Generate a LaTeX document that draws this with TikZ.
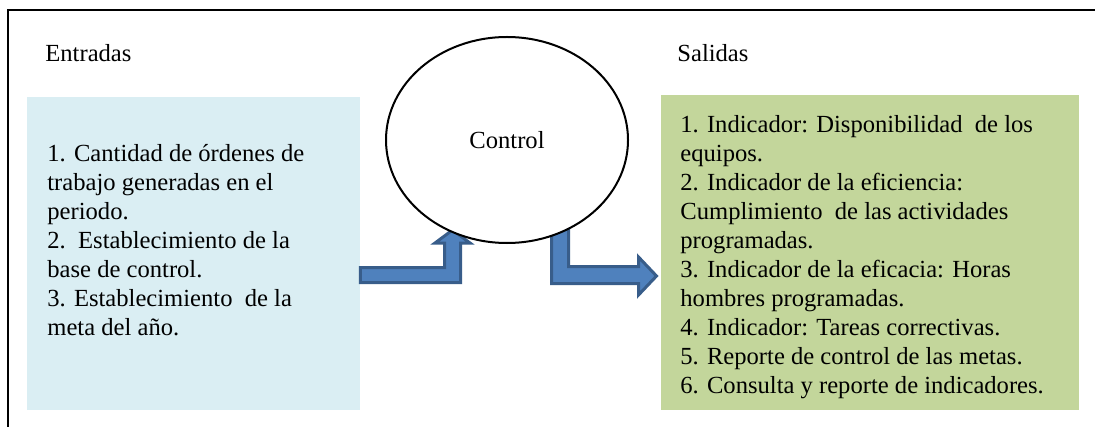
\documentclass[tikz,border=0pt]{standalone}
\usepackage{fontspec}
\setmainfont{Liberation Serif}
\usetikzlibrary{shapes.geometric}
\definecolor{entradafill}{HTML}{DAEEF3}
\definecolor{salidafill}{HTML}{C3D69B}
\definecolor{flechafill}{HTML}{4F81BD}
\definecolor{flechaborde}{HTML}{385D8A}
\tikzset{
  caja/.style={inner sep=0pt, draw=none},
  lista/.style={anchor=north west, inner sep=0pt, align=left, font=\fontsize{12.3}{14.5}\selectfont},
  titulo/.style={anchor=base west, inner sep=0pt, font=\fontsize{12.3}{14.5}\selectfont},
  flecha/.style={fill=flechafill, draw=flechaborde, line width=1.5pt, line join=miter}
}
\begin{document}
\begin{tikzpicture}[x=0.5pt,y=-0.5pt]
\useasboundingbox (0,0) rectangle (1095,427);

%% marco
\draw[line width=1.1pt] (8,427) -- (8,10) -- (1095,10);

%% cajas
\node[caja, fill=entradafill, minimum width=166.5pt, minimum height=156.5pt] (entrada) at (193.5,253.5) {};
\node[caja, fill=salidafill, minimum width=209pt, minimum height=157.5pt] (salida) at (870,252.5) {};

%% titulos
\node[titulo] (tEntradas) at (45,62) {Entradas};
\node[titulo] (tSalidas) at (677,62) {Salidas};

%% textos de las cajas
\node[lista] (lEntradas) at (47,144) {1. Cantidad de órdenes de\\trabajo generadas en el\\periodo.\\2.\ \ Establecimiento de la\\base de control.\\3. Establecimiento\ \ de la\\meta del año.};
\node[lista] (lSalidas) at (680,115) {1. Indicador: Disponibilidad\ \ de los\\equipos.\\2. Indicador de la eficiencia:\\Cumplimiento\ \ de las actividades\\programadas.\\3. Indicador de la eficacia: Horas\\hombres programadas.\\4. Indicador: Tareas correctivas.\\5. Reporte de control de las metas.\\6. Consulta y reporte de indicadores.};

%% flechas
\draw[flecha] (entrada.east |- 0,267.5) -- (444.5,267.5) -- (444.5,243) -- (435,243) -- (452.5,230) -- (470,243) -- (460.5,243) -- (460.5,282.5) -- (entrada.east |- 0,282.5) -- cycle;   %% entrada -> control
\draw[flecha] (551.5,215) -- (568.5,215) -- (568.5,266.5) -- (638.5,266.5) -- (638.5,257) -- (656.5,276) -- (638.5,295) -- (638.5,283.5) -- (551.5,283.5) -- cycle;   %% control -> salida

%% control
\node[draw, ellipse, fill=white, line width=1pt, minimum width=121pt, minimum height=103pt, inner sep=0pt, font=\fontsize{12.3}{14.5}\selectfont] (control) at (507,140) {Control};

\end{tikzpicture}
\end{document}
